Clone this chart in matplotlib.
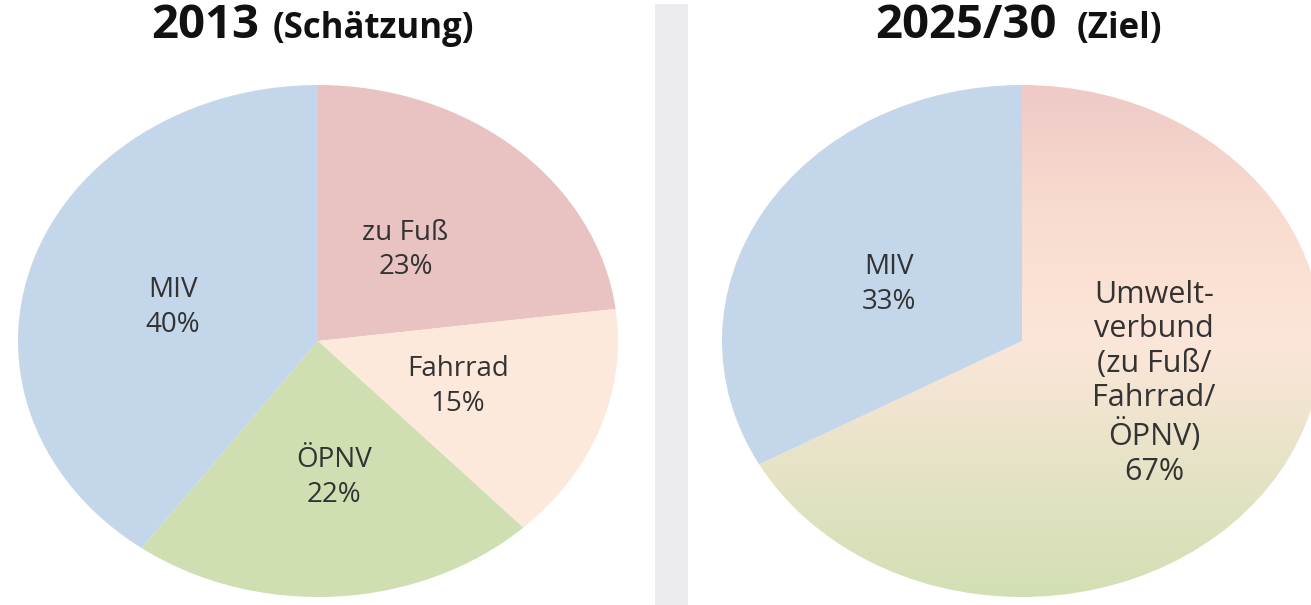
import numpy as np
import matplotlib
matplotlib.use("Agg")
import matplotlib.pyplot as plt
from matplotlib.patches import Rectangle
from matplotlib.colors import LinearSegmentedColormap

# ---- data ----
left_title = "2013"
left_sub = "(Schätzung)"
left_labels = ["zu Fuß", "Fahrrad", "ÖPNV", "MIV"]
left_values = [23, 15, 22, 40]

right_title = "2025/30"
right_sub = "(Ziel)"
right_labels = ["Umwelt-\nverbund\n(zu Fuß/\nFahrrad/\nÖPNV)", "MIV"]
right_values = [67, 33]

# ---- style ----
left_colors = ["#e8c3c2", "#fde9dc", "#d0dfb1", "#c4d6ea"]
right_miv_color = "#c4d6ea"
grad_cmap = LinearSegmentedColormap.from_list(
    "umwelt", ["#efcac7", "#f8dccf", "#fce6d9", "#e6e3c6", "#d2dfb3"])
text_color = "#333333"
label_font = "Open Sans"

W, H = 1311, 605
fig = plt.figure(figsize=(W / 100, H / 100), dpi=100)
fig.patch.set_facecolor("white")

# separator bar
fig.patches.append(Rectangle((655 / W, 0), 33 / W, (H - 4) / H,
                             transform=fig.transFigure, facecolor="#ebebed",
                             edgecolor="none", zorder=0))


def pie_axes(x0, x1, y0, y1):
    return fig.add_axes([x0 / W, 1 - y1 / H, (x1 - x0) / W, (y1 - y0) / H])


def finish(ax):
    ax.set_aspect("auto")
    ax.set_xlim(-1, 1)
    ax.set_ylim(-1, 1)
    ax.axis("off")


def put_labels(ax, wedges, labels, values, dists, nudges, sizes, spacings):
    for w, lab, v, d, n, fs, ls in zip(wedges, labels, values, dists, nudges,
                                       sizes, spacings):
        th = np.deg2rad((w.theta1 + w.theta2) / 2 + n)
        ax.text(d * np.cos(th), d * np.sin(th), f"{lab}\n{v}%",
                ha="center", va="center", fontsize=fs, family=label_font,
                color=text_color, linespacing=ls)


# left pie
axl = pie_axes(18, 618, 85, 597)
wl, _ = axl.pie(left_values, colors=left_colors, startangle=90,
                counterclock=False, radius=1, wedgeprops=dict(linewidth=0))
finish(axl)
put_labels(axl, wl, left_labels, left_values,
           [0.46, 0.50, 0.535, 0.50], [2, -1, 2, 3],
           [20] * 4, [1.33] * 4)

# right pie
axr = pie_axes(722, 1322, 85, 597)
wr, _ = axr.pie(right_values, colors=["none", right_miv_color], startangle=90,
                counterclock=False, radius=1, wedgeprops=dict(linewidth=0))
grad = np.linspace(0, 1, 256).reshape(-1, 1)
im = axr.imshow(grad, extent=(-1, 1, -1, 1), cmap=grad_cmap, aspect="auto",
                origin="upper", zorder=0.5)
im.set_clip_path(wr[0])
finish(axr)
put_labels(axr, wr, right_labels, right_values, [0.47, 0.495], [10, 4],
           [22, 20], [1.19, 1.33])

# titles
def title(xj, gap, big, small):
    fig.text(xj / W, 1 - 38 / H, big, ha="right", va="baseline",
             fontsize=34, fontweight="bold", family="Open Sans", color="#111111")
    fig.text((xj + gap) / W, 1 - 38 / H, small, ha="left", va="baseline",
             fontsize=25, fontweight="bold", family="Open Sans", color="#111111")

title(259, 14, left_title, left_sub)
title(1057, 20, right_title, right_sub)

fig.savefig("out.png", dpi=100, facecolor="white")
